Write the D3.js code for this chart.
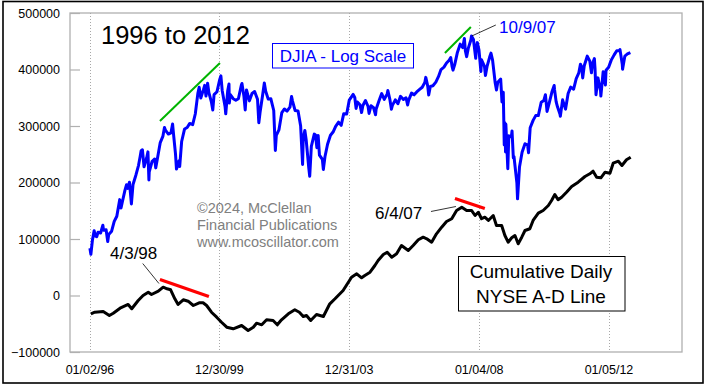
<!DOCTYPE html>
<html><head><meta charset="utf-8">
<script src="https://cdn.jsdelivr.net/npm/d3@7"></script>
<style>
html,body{margin:0;padding:0;background:#fff;}
svg{display:block;font-family:"Liberation Sans",Arial,sans-serif;}
</style></head>
<body><svg id="c" width="708" height="388"></svg>
<script>
// ---- DATA ----
const xTickYears = [1996.003, 1999.995, 2003.997, 2008.008, 2012.011];
const xTickLabels = ["01/02/96", "12/30/99", "12/31/03", "01/04/08", "01/05/12"];
const yTicks = [-100000, 0, 100000, 200000, 300000, 400000, 500000];

// DJIA (decimal year, index value)
const djia = [
[1996.00,5177],[1996.03,5032],[1996.08,5395],[1996.13,5630],[1996.17,5485],[1996.21,5470],[1996.25,5587],[1996.33,5569],[1996.40,5778],[1996.42,5643],[1996.50,5655],[1996.55,5346],[1996.58,5529],[1996.67,5616],[1996.75,5882],[1996.83,6029],[1996.92,6522],[1996.96,6268],
[1997.00,6448],[1997.08,6813],[1997.13,7000],[1997.17,6878],[1997.22,7085],[1997.28,6391],[1997.33,7009],[1997.42,7331],[1997.50,7673],[1997.55,8000],[1997.58,8223],[1997.62,8259],[1997.67,7622],[1997.75,7945],[1997.79,8178],[1997.82,7161],[1997.83,7442],[1997.92,7823],
[1998.00,7908],[1998.03,7581],[1998.08,7907],[1998.17,8546],[1998.25,8800],[1998.30,9184],[1998.33,9063],[1998.42,8900],[1998.50,8952],[1998.55,9338],[1998.58,8883],[1998.64,8100],[1998.67,7539],[1998.75,7843],[1998.77,7632],[1998.83,8592],[1998.92,9117],
[1999.00,9181],[1999.08,9359],[1999.17,9307],[1999.25,9786],[1999.33,10789],[1999.37,11107],[1999.42,10560],[1999.50,10971],[1999.54,11209],[1999.58,10655],[1999.63,11326],[1999.67,10829],[1999.75,10337],[1999.79,9976],[1999.83,10729],[1999.92,10878],
[2000.00,11497],[2000.04,11723],[2000.08,10941],[2000.17,10128],[2000.19,9796],[2000.25,10922],[2000.29,11287],[2000.30,10305],[2000.33,10734],[2000.42,10522],[2000.50,10448],[2000.58,10522],[2000.67,11215],[2000.69,11310],[2000.75,10651],[2000.79,9975],[2000.83,10971],[2000.92,10415],
[2001.00,10788],[2001.08,10887],[2001.17,10495],[2001.21,9390],[2001.25,9879],[2001.33,10735],[2001.38,11337],[2001.42,10912],[2001.50,10502],[2001.58,10523],[2001.67,9950],[2001.72,8236],[2001.75,8848],[2001.83,9075],[2001.92,9852],
[2002.00,10022],[2002.08,9920],[2002.17,10106],[2002.22,10635],[2002.25,10404],[2002.33,9946],[2002.42,9925],[2002.50,9243],[2002.56,7702],[2002.58,8737],[2002.63,9053],[2002.67,8664],[2002.75,7592],[2002.78,7286],[2002.83,8397],[2002.92,8896],[2002.96,8862],
[2003.00,8342],[2003.04,8842],[2003.08,8054],[2003.17,7891],[2003.20,7524],[2003.25,7992],[2003.33,8480],[2003.42,8850],[2003.50,8985],[2003.58,9234],[2003.67,9416],[2003.75,9275],[2003.83,9801],[2003.92,9782],
[2004.00,10454],[2004.12,10737],[2004.17,10584],[2004.21,10048],[2004.25,10358],[2004.33,10226],[2004.38,9852],[2004.42,10188],[2004.50,10435],[2004.58,10140],[2004.61,9815],[2004.67,10174],[2004.75,10080],[2004.81,9750],[2004.83,10027],[2004.92,10428],
[2005.00,10783],[2005.08,10490],[2005.17,10766],[2005.19,10940],[2005.25,10504],[2005.30,10012],[2005.33,10193],[2005.42,10467],[2005.50,10275],[2005.58,10641],[2005.67,10482],[2005.75,10569],[2005.80,10216],[2005.83,10440],[2005.92,10806],
[2006.00,10718],[2006.08,10865],[2006.17,10993],[2006.25,11109],[2006.33,11367],[2006.36,11642],[2006.42,11168],[2006.45,10706],[2006.50,11150],[2006.58,11186],[2006.67,11381],[2006.75,11679],[2006.83,12081],[2006.92,12221],
[2007.00,12463],[2007.08,12622],[2007.13,12786],[2007.17,12269],[2007.20,12050],[2007.25,12354],[2007.33,13063],[2007.42,13628],[2007.50,13409],[2007.55,14000],[2007.58,13212],[2007.62,12845],[2007.67,13358],[2007.75,13896],[2007.77,14164],[2007.83,13930],[2007.90,12743],[2007.92,13372],[2007.95,13727],
[2008.00,13265],[2008.06,11971],[2008.08,12650],[2008.17,12266],[2008.20,11740],[2008.25,12263],[2008.33,12820],[2008.37,13058],[2008.42,12638],[2008.50,11350],[2008.54,10962],[2008.58,11378],[2008.67,11544],[2008.71,10365],[2008.75,10851],[2008.78,8451],[2008.80,9387],[2008.82,8175],[2008.83,9325],[2008.89,7552],[2008.92,8829],
[2009.00,8776],[2009.02,9034],[2009.06,7950],[2009.08,8001],[2009.17,7063],[2009.19,6547],[2009.25,7609],[2009.33,8168],[2009.42,8500],[2009.50,8447],[2009.53,8146],[2009.58,9172],[2009.67,9496],[2009.75,9712],[2009.83,9713],[2009.92,10345],
[2010.00,10428],[2010.05,10726],[2010.10,9908],[2010.17,10325],[2010.25,10857],[2010.32,11205],[2010.33,11009],[2010.38,10380],[2010.42,10137],[2010.50,9774],[2010.51,9686],[2010.58,10466],[2010.67,10015],[2010.75,10788],[2010.83,11118],[2010.92,11006],
[2011.00,11578],[2011.08,11892],[2011.13,12391],[2011.17,12226],[2011.20,11613],[2011.25,12320],[2011.33,12811],[2011.34,12876],[2011.42,12570],[2011.47,11897],[2011.50,12414],[2011.56,12724],[2011.58,12143],[2011.61,10719],[2011.67,11614],[2011.75,10913],[2011.76,10655],[2011.83,11955],[2011.90,11231],[2011.92,12046],
[2012.00,12218],[2012.08,12633],[2012.17,12952],[2012.25,13212],[2012.33,13214],[2012.35,13279],[2012.42,12393],[2012.43,12101],[2012.50,12880],[2012.58,13009],[2012.67,13091]
];

// Cumulative Daily NYSE A-D Line (decimal year, value)
const adLine = [
[1996.03,-32400],[1996.15,-29600],[1996.41,-28300],[1996.60,-35400],[1996.72,-31300],[1996.93,-22500],
[1997.18,-15900],[1997.29,-23500],[1997.49,-8850],[1997.64,0],[1997.80,5800],[1997.90,1800],
[1998.11,7600],[1998.26,14700],[1998.38,11900],[1998.49,10100],[1998.62,-5800],[1998.72,-15900],[1998.88,-7600],
[1999.03,-10100],[1999.19,-17700],[1999.37,-12900],[1999.49,-12900],[1999.60,-17700],[1999.75,-29600],[1999.91,-38400],
[2000.06,-47300],[2000.22,-56100],[2000.42,-58900],[2000.68,-53100],[2000.88,-61900],
[2001.04,-56100],[2001.14,-49000],[2001.30,-51900],[2001.45,-43000],[2001.65,-44300],[2001.78,-51900],[2001.91,-43000],
[2002.12,-32400],[2002.32,-25300],[2002.46,-29600],[2002.58,-37200],[2002.68,-35400],[2002.81,-44300],[2002.99,-33600],
[2003.20,-37200],[2003.40,-14700],[2003.56,-5800],[2003.81,8850],
[2004.07,32400],[2004.23,38400],[2004.38,31300],[2004.48,35400],[2004.64,41200],[2004.79,53100],[2004.89,62000],
[2005.05,72600],[2005.17,76600],[2005.31,67800],[2005.46,73800],[2005.61,88500],[2005.82,79700],[2005.97,88500],
[2006.13,98600],[2006.28,103200],[2006.39,100400],[2006.54,94300],[2006.69,109200],[2006.85,120900],
[2007.00,131000],[2007.16,135800],[2007.31,150500],[2007.47,156300],[2007.62,150500],[2007.77,150500],[2007.88,141600],[2007.98,147400],
[2008.08,135800],[2008.18,138600],[2008.29,132800],[2008.44,141600],[2008.54,123900],[2008.70,123900],[2008.80,106200],[2008.90,94300],
[2009.01,102100],[2009.11,106200],[2009.21,91500],[2009.32,103200],[2009.42,115000],[2009.57,118100],[2009.67,132800],[2009.83,145700],[2009.98,150500],
[2010.14,159300],[2010.24,168200],[2010.34,178800],[2010.44,169400],[2010.55,174000],[2010.70,182800],[2010.86,192900],
[2011.06,200500],[2011.27,210600],[2011.42,215400],[2011.52,220000],[2011.63,209400],[2011.76,208300],[2011.89,218200],
[2012.04,216500],[2012.14,234200],[2012.30,237700],[2012.41,230100],[2012.55,240200],[2012.68,244800]
];

// trend annotations (decimal year, value)
const greenTrends = [ [[1998.16,9467],[2000.01,12463]], [[2006.95,13068],[2007.75,14781]] ];
const redTrends = [ [[1998.16,28300],[1999.67,-1770]], [[2007.26,171700],[2008.18,154000]] ];
const peakLabelDjia = {text:"10/9/07", from:[2008.52,14922], to:[2007.78,14164]};
const peakLabelsAD = [
  {text:"4/3/98", from:[1997.63,56600], to:[1998.13,21200]},
  {text:"6/4/07", from:[2006.52,148700], to:[2007.29,157500]}
];

// ---- CHART ----
const svg = d3.select("#c");
const L = 70, R = 682, T = 13, B = 352;
const x = d3.scaleLinear().domain([xTickYears[0], xTickYears[4]]).range([90, 609]);
const y = d3.scaleLinear().domain([-100000, 500000]).range([B, T]);
const yLog = d3.scaleLog().domain([5000, 15000]).range([255.7, 23.9]);
const gray = "#b0b0b0";

// outer frame
svg.append("rect").attr("x",3).attr("y",1.5).attr("width",700).attr("height",381.5)
  .attr("fill","none").attr("stroke","#000").attr("stroke-width",1.6);

// plot frame
svg.append("rect").attr("x",L).attr("y",T).attr("width",R-L).attr("height",B-T)
  .attr("fill","none").attr("stroke",gray).attr("stroke-width",1.3);

// vertical dotted grid
svg.append("g").selectAll("line").data(xTickYears).join("line")
  .attr("x1",d=>Math.round(x(d))+0.5).attr("x2",d=>Math.round(x(d))+0.5)
  .attr("y1",T).attr("y2",B).attr("stroke","#a8a8a8").attr("stroke-dasharray","1,2");

// y axis ticks (inward) and labels
const yAxis = d3.axisRight(y).tickValues(yTicks).tickSize(10).tickFormat("");
const gy = svg.append("g").attr("transform",`translate(${L},0)`).call(yAxis);
gy.select(".domain").remove();
gy.selectAll("line").attr("stroke",gray).attr("stroke-width",1.2);
svg.append("g").selectAll("text").data(yTicks).join("text")
  .attr("x",60).attr("y",d=>y(d)).attr("dy","0.36em").attr("text-anchor","end")
  .attr("font-size","12.5px").attr("fill","#000").text(d=>d3.format("d")(d));

// x labels
svg.append("g").selectAll("text").data(xTickYears).join("text")
  .attr("x",d=>x(d)).attr("y",374).attr("text-anchor","middle")
  .attr("font-size","12.5px").attr("fill","#000").text((d,i)=>xTickLabels[i]);

// copyright
const cp = ["\u00A92024, McClellan","Financial Publications","www.mcoscillator.com"];
svg.append("g").selectAll("text").data(cp).join("text")
  .attr("x",197).attr("y",(d,i)=>213+i*17).attr("font-size","14.5px").attr("fill","#808080").text(d=>d);

// title
svg.append("text").attr("x",101).attr("y",44).attr("font-size","25.5px").attr("fill","#000").text("1996 to 2012");

// DJIA legend box
svg.append("rect").attr("x",272.5).attr("y",43.5).attr("width",141).attr("height",24.5)
  .attr("fill","#fff").attr("stroke","#0000ff").attr("stroke-width",1);
svg.append("text").attr("x",343).attr("y",62).attr("text-anchor","middle")
  .attr("font-size","17px").attr("fill","#0000ff").text("DJIA - Log Scale");

// lines
const lineAD = d3.line().x(d=>x(d[0])).y(d=>y(d[1]));
const lineDJ = d3.line().x(d=>x(d[0])).y(d=>yLog(d[1]));

svg.append("path").datum(adLine).attr("d",lineAD).attr("fill","none")
  .attr("stroke","#000").attr("stroke-width",3).attr("stroke-linejoin","round");
svg.append("path").datum(djia).attr("d",lineDJ).attr("fill","none")
  .attr("stroke","#0000ff").attr("stroke-width",3).attr("stroke-linejoin","round");

// trend lines
svg.append("g").selectAll("path").data(greenTrends).join("path")
  .attr("d",lineDJ).attr("fill","none").attr("stroke","#00b400").attr("stroke-width",2);
svg.append("g").selectAll("path").data(redTrends).join("path")
  .attr("d",lineAD).attr("fill","none").attr("stroke","#ff0000").attr("stroke-width",3.2);

// peak labels and leaders
svg.append("line").attr("x1",x(peakLabelDjia.from[0])).attr("y1",yLog(peakLabelDjia.from[1]))
  .attr("x2",x(peakLabelDjia.to[0])).attr("y2",yLog(peakLabelDjia.to[1])).attr("stroke","#000").attr("stroke-width",0.8);
svg.append("text").attr("x",499).attr("y",33).attr("font-size","17px").attr("fill","#0000ff").text(peakLabelDjia.text);

peakLabelsAD.forEach(p=>{
  svg.append("line").attr("x1",x(p.from[0])).attr("y1",y(p.from[1]))
    .attr("x2",x(p.to[0])).attr("y2",y(p.to[1])).attr("stroke","#000").attr("stroke-width",0.8);
});
svg.append("text").attr("x",110).attr("y",259).attr("font-size","17px").attr("fill","#000").text(peakLabelsAD[0].text);
svg.append("text").attr("x",375).attr("y",219).attr("font-size","17px").attr("fill","#000").text(peakLabelsAD[1].text);

// A-D legend box
svg.append("rect").attr("x",458.5).attr("y",256.5).attr("width",166.5).attr("height",54.5)
  .attr("fill","#fff").attr("stroke","#000").attr("stroke-width",1);
svg.append("text").attr("x",541).attr("y",278).attr("text-anchor","middle")
  .attr("font-size","19px").attr("fill","#000").text("Cumulative Daily");
svg.append("text").attr("x",541).attr("y",303).attr("text-anchor","middle")
  .attr("font-size","19px").attr("fill","#000").text("NYSE A-D Line");
</script></body></html>
